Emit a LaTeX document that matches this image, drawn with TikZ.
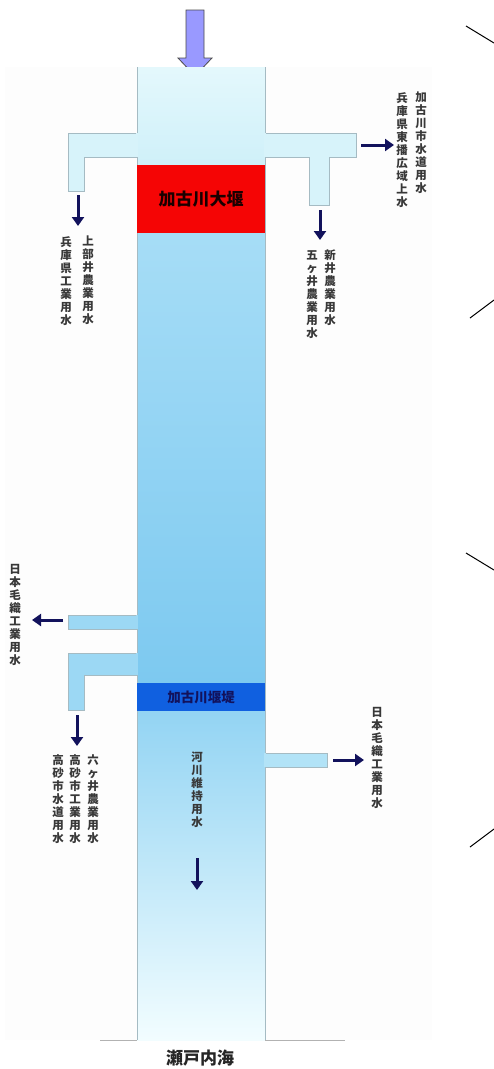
\documentclass[tikz,border=0pt]{standalone}
\usepackage{fontspec}
\newfontfamily\cjk{Noto Sans CJK JP}
\usetikzlibrary{arrows.meta}
\definecolor{panel}{HTML}{FDFDFD}
\definecolor{colTopA}{HTML}{E4F8FC}
\definecolor{colBotA}{HTML}{CFF0F9}
\definecolor{colTopB}{HTML}{A6DDF6}
\definecolor{colBotB}{HTML}{7DC9F0}
\definecolor{colTopC}{HTML}{93D4F3}
\definecolor{colBotC}{HTML}{F2FDFF}
\definecolor{brTop}{HTML}{D7F3FA}
\definecolor{brLow}{HTML}{9CD8F4}
\definecolor{brLowR}{HTML}{B2E3F7}
\definecolor{edgec}{HTML}{A5BBC3}
\definecolor{damred}{HTML}{F50505}
\definecolor{weirblue}{HTML}{1060E0}
\definecolor{navy}{HTML}{12125C}
\definecolor{inflow}{HTML}{9999FF}
\tikzset{
  vlab/.style={font=\cjk\bfseries\fontsize{11.5}{13}\selectfont, align=center, inner sep=0pt, anchor=north, text=black!78},
  flowarr/.style={line width=3pt, draw=navy, -{Triangle[width=12pt,length=9pt]}},
  branchTop/.style={fill=brTop, draw=edgec, line width=0.6pt},
  branchLow/.style={fill=brLow, draw=edgec, line width=0.6pt},
  branchLowR/.style={fill=brLowR, draw=edgec, line width=0.6pt},
  coledge/.style={draw=edgec, line width=0.6pt},
  diag/.style={draw=black, line width=1pt}
}
\begin{document}
\begin{tikzpicture}[x=1pt,y=-1pt]
\useasboundingbox (0,0) rectangle (494,1069);
\fill[white] (0,0) rectangle (494,1069);
% inflow arrow
\draw[fill=inflow, draw=black!70, line width=0.8pt]
  (186,10) -- (204,10) -- (204,58) -- (212,58) -- (195,76) -- (178,58) -- (186,58) -- cycle;
% panel
\fill[panel] (5,67) rectangle (432,1040);
% column shading
\shade[top color=colTopA, bottom color=colBotA] (137,67) rectangle (265,165);
\shade[top color=colTopB, bottom color=colBotB] (137,233) rectangle (265,683);
\shade[top color=colTopC, bottom color=colBotC] (137,711) rectangle (265,1040);
% branches
\draw[branchTop] (137,133) -- (68,133) -- (68,191) -- (84,191) -- (84,157) -- (137,157);
\fill[brTop] (136,133) rectangle (138,157);
\draw[branchTop] (265,133) -- (356,133) -- (356,157) -- (329,157) -- (329,205) -- (309,205) -- (309,157) -- (265,157);
\fill[brTop] (264,133) rectangle (266,157);
\draw[branchLow] (137,615) -- (68,615) -- (68,629) -- (137,629);
\fill[brLow] (136,615.3) rectangle (138,628.7);
\draw[branchLow] (137,653) -- (68,653) -- (68,710) -- (84,710) -- (84,675) -- (137,675);
\fill[brLow] (136,653.3) rectangle (138,674.7);
\draw[branchLowR] (265,753) -- (327,753) -- (327,767) -- (265,767);
\fill[brLowR] (264,753.3) rectangle (266,766.7);
% column edges
\draw[coledge] (137,67) -- (137,133) (137,157) -- (137,615) (137,629) -- (137,653) (137,675) -- (137,1040);
\draw[coledge] (265,67) -- (265,133) (265,157) -- (265,753) (265,767) -- (265,1040);
\draw[draw=black!30, line width=0.8pt] (100,1040) -- (137,1040) (265,1040) -- (345,1040);
% dams
\node[fill=damred, minimum width=128pt, minimum height=68pt, inner sep=0pt, font=\cjk\bfseries\fontsize{17}{17}\selectfont, text=black!90!red] (dam) at (201,199) {加古川大堰};
\node[fill=weirblue, minimum width=128pt, minimum height=28pt, inner sep=0pt, font=\cjk\bfseries\fontsize{13.5}{14}\selectfont, text=navy] (weir) at (201,697) {加古川堰堤};
% arrows
\coordinate (a1s) at (78,195); \coordinate (a1e) at (78,226);
\coordinate (a2s) at (320,210); \coordinate (a2e) at (320,240);
\coordinate (a3s) at (361,145); \coordinate (a3e) at (394,145);
\coordinate (a4s) at (63,620); \coordinate (a4e) at (32,620);
\coordinate (a5s) at (77,715); \coordinate (a5e) at (77,746);
\coordinate (a6s) at (333,760); \coordinate (a6e) at (364,760);
\coordinate (a7s) at (197,858); \coordinate (a7e) at (197,890);
\foreach \s/\e in {a1s/a1e,a2s/a2e,a3s/a3e,a4s/a4e,a5s/a5e,a6s/a6e,a7s/a7e}
  \draw[flowarr] (\s) -- (\e);
% labels
\node[vlab] (l1) at (421,92) {加\\古\\川\\市\\水\\道\\用\\水};
\node[vlab] (l2) at (402,92) {兵\\庫\\県\\東\\播\\広\\域\\上\\水};
\node[vlab] (l3) at (88,236) {上\\部\\井\\農\\業\\用\\水};
\node[vlab] (l4) at (66,236) {兵\\庫\\県\\工\\業\\用\\水};
\node[vlab] (l5) at (330,250) {新\\井\\農\\業\\用\\水};
\node[vlab] (l6) at (312,250) {五\\ヶ\\井\\農\\業\\用\\水};
\node[vlab] (l7) at (15,564) {日\\本\\毛\\織\\工\\業\\用\\水};
\node[vlab] (l8) at (93,754) {六\\ヶ\\井\\農\\業\\用\\水};
\node[vlab] (l9) at (75,754) {高\\砂\\市\\工\\業\\用\\水};
\node[vlab] (l10) at (58,754) {高\\砂\\市\\水\\道\\用\\水};
\node[vlab] (l11) at (197,752) {河\\川\\維\\持\\用\\水};
\node[vlab] (l12) at (377,707) {日\\本\\毛\\織\\工\\業\\用\\水};
\node[font=\cjk\bfseries\fontsize{17}{17}\selectfont, text=black!85, inner sep=0pt] (sea) at (200,1058) {瀬戸内海};
% callout lines at right edge
\coordinate (d1a) at (466,26); \coordinate (d1b) at (494,43);
\coordinate (d2a) at (470,318); \coordinate (d2b) at (494,300);
\coordinate (d3a) at (466,553); \coordinate (d3b) at (494,570);
\coordinate (d4a) at (470,847); \coordinate (d4b) at (494,829);
\draw[diag] (d1a) -- (d1b) (d2a) -- (d2b) (d3a) -- (d3b) (d4a) -- (d4b);
\end{tikzpicture}
\end{document}
